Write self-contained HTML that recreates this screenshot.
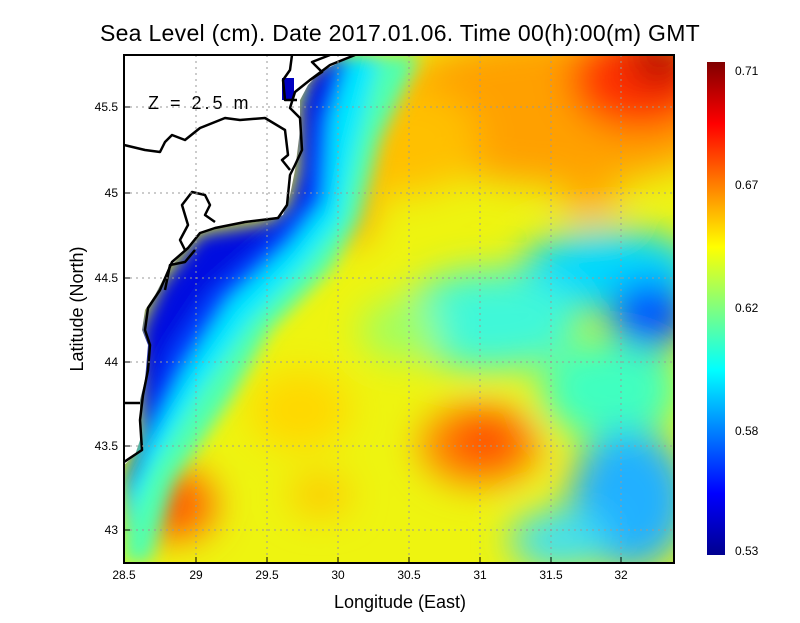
<!DOCTYPE html>
<html><head><style>body{margin:0;background:#fff}svg text{font-family:"Liberation Sans",sans-serif}</style></head><body>
<svg width="800" height="618" viewBox="0 0 800 618" xmlns="http://www.w3.org/2000/svg">
<defs>
<clipPath id="c"><rect x="124" y="55" width="550" height="508"/></clipPath>
<filter id="b" x="-20%" y="-20%" width="140%" height="140%"><feGaussianBlur stdDeviation="18"/></filter>
<filter id="b2"><feGaussianBlur stdDeviation="9"/></filter>
<linearGradient id="cb" x1="0" y1="1" x2="0" y2="0">
<stop offset="0" stop-color="#00008f"/><stop offset="0.125" stop-color="#0000ff"/><stop offset="0.375" stop-color="#00ffff"/><stop offset="0.625" stop-color="#ffff00"/><stop offset="0.875" stop-color="#ff0000"/><stop offset="1" stop-color="#800000"/></linearGradient>
</defs>
<g clip-path="url(#c)">
<rect x="100" y="40" width="600" height="540" fill="#eef410"/>
<g filter="url(#b)">
<ellipse cx="560" cy="110" rx="180" ry="75" fill="#ffa000"/>
<ellipse cx="640" cy="80" rx="70" ry="50" fill="#ff3000"/>
<ellipse cx="660" cy="60" rx="30" ry="25" fill="#b00000"/>
<ellipse cx="400" cy="140" rx="80" ry="55" fill="#ffc000"/>
<ellipse cx="350" cy="210" rx="25" ry="35" fill="#ffa800"/>
<ellipse cx="610" cy="270" rx="90" ry="40" fill="#00d8ff"/>
<ellipse cx="490" cy="320" rx="90" ry="50" fill="#40f8d8"/>
<ellipse cx="650" cy="315" rx="40" ry="35" fill="#0050ff"/>
<ellipse cx="400" cy="330" rx="40" ry="30" fill="#a0ff60"/>
<ellipse cx="610" cy="390" rx="70" ry="50" fill="#40ffc0"/>
<ellipse cx="630" cy="500" rx="60" ry="70" fill="#20b0ff"/>
<ellipse cx="560" cy="540" rx="50" ry="30" fill="#40e0f0"/>
<ellipse cx="480" cy="445" rx="60" ry="40" fill="#ff8000"/>
<ellipse cx="485" cy="440" rx="30" ry="22" fill="#ff4000"/>
<ellipse cx="300" cy="410" rx="50" ry="40" fill="#ffd800"/>
<ellipse cx="320" cy="495" rx="30" ry="20" fill="#ffc800"/>
<ellipse cx="175" cy="505" rx="40" ry="35" fill="#ff6000"/>
<ellipse cx="590" cy="200" rx="30" ry="20" fill="#ffb000"/>
</g>
<g filter="url(#b2)">
<path d="M360,55 L330,70 L305,95 L300,170 L290,205 L270,222 L200,235 L160,290 L140,330 L140,470 L124,480 L124,563 L150,563 L175,480 L230,400 L270,330 L330,270 L360,220 L380,140 L420,55Z" fill="#50ffb0"/>
<path d="M350,55 L320,72 L300,95 L300,170 L288,205 L268,222 L200,233 L160,285 L140,330 L140,470 L124,480 L124,530 L150,470 L200,390 L250,320 L300,270 L340,220 L355,150 L380,55Z" fill="#00e8ff"/>
<path d="M345,55 L315,75 L300,100 L298,170 L288,205 L268,222 L200,233 L160,285 L140,330 L140,470 L124,480 L124,500 L150,440 L185,370 L230,300 L290,245 L325,200 L330,120 L350,55Z" fill="#0040ff"/>
<path d="M335,55 L310,75 L300,100 L298,170 L288,205 L268,222 L200,233 L160,285 L140,330 L140,470 L124,480 L145,420 L170,350 L210,290 L270,238 L305,200 L315,120 L340,55Z" fill="#0010e0"/>
</g>
<path d="M124,55 L352,55 L340,62 L320,72 L308,85 L300,100 L300,130 L295,170 L290,195 L283,215 L270,220 L230,225 L200,233 L185,250 L168,270 L155,295 L145,310 L142,330 L148,345 L145,380 L140,400 L140,440 L135,455 L124,465Z" fill="#fff"/>
<rect x="282" y="78" width="12" height="22" fill="#0000c0"/>
<g stroke="#000" stroke-width="2.5" fill="none" stroke-linejoin="round">
<path d="M355,55 L330,65 L310,80 L295,92 L290,108 L300,118 L302,150 L295,165 L290,175 L287,205 L278,218 L245,222 L215,228 L200,233 L188,248 L172,262 L160,290 L148,308 L145,330 L150,345 L148,370 L143,395 L140,420 L142,450 L124,462"/>
<path d="M124,145 L145,150 L160,152 L165,142 L172,135 L185,140 L200,128 L225,118 L240,120 L265,118 L285,130 L288,155 L282,160 L290,170"/>
<path d="M297,100 L285,100 L283,80 L290,70 L292,55"/>
<path d="M310,80 L322,72 L312,62 L330,55"/>
<path d="M185,250 L180,240 L188,225 L182,205 L192,192 L205,195 L210,205 L205,215 L215,222"/>
<path d="M165,290 L170,265 L185,262 L195,250"/>
<path d="M124,403 L140,403"/>
</g>
<text x="148" y="109" font-size="18" fill="#000" letter-spacing="3">Z = 2.5 m</text>
<g stroke="#999" stroke-width="1" stroke-dasharray="2,4">
<path d="M196,55V563M267,55V563M338,55V563M409,55V563M480,55V563M551,55V563M621,55V563"/>
<path d="M124,530H674M124,446H674M124,362H674M124,278H674M124,193H674M124,107H674"/>
</g>
</g>
<rect x="124" y="55" width="550" height="508" fill="none" stroke="#000" stroke-width="2"/>
<g stroke="#000" stroke-width="1"><path d="M196,563v-6M267,563v-6M338,563v-6M409,563v-6M480,563v-6M551,563v-6M621,563v-6M124,530h6M124,446h6M124,362h6M124,278h6M124,193h6M124,107h6"/></g>
<g font-size="12" text-anchor="middle" fill="#000">
<text x="124" y="579">28.5</text><text x="196" y="579">29</text><text x="267" y="579">29.5</text><text x="338" y="579">30</text><text x="409" y="579">30.5</text><text x="480" y="579">31</text><text x="551" y="579">31.5</text><text x="621" y="579">32</text>
</g>
<g font-size="12" text-anchor="end" fill="#000">
<text x="118" y="534">43</text><text x="118" y="450">43.5</text><text x="118" y="366">44</text><text x="118" y="282">44.5</text><text x="118" y="197">45</text><text x="118" y="111">45.5</text>
</g>
<text x="400" y="608" font-size="18" text-anchor="middle">Longitude (East)</text>
<text transform="translate(83,309) rotate(-90)" font-size="18" text-anchor="middle">Latitude (North)</text>
<text x="400" y="41" font-size="23" text-anchor="middle" letter-spacing="0.3">Sea Level (cm). Date 2017.01.06. Time 00(h):00(m) GMT</text>
<rect x="707" y="62" width="18" height="493" fill="url(#cb)"/>
<g font-size="12" fill="#000"><text x="735" y="75">0.71</text><text x="735" y="189">0.67</text><text x="735" y="312">0.62</text><text x="735" y="435">0.58</text><text x="735" y="555">0.53</text></g>
</svg>
</body></html>
